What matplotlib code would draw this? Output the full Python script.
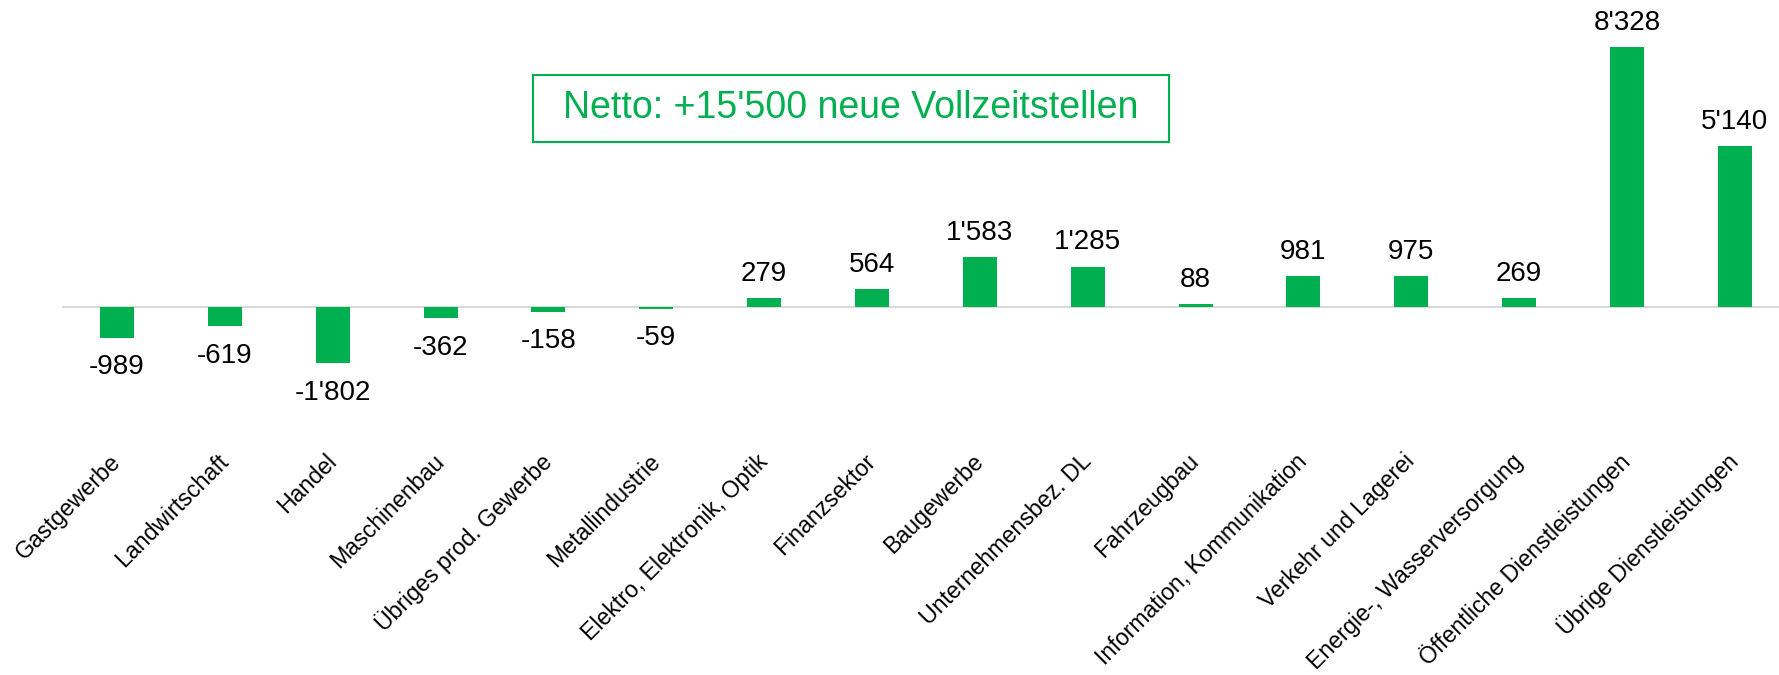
import matplotlib
matplotlib.use("Agg")
import matplotlib.pyplot as plt
from matplotlib.patches import Rectangle

plt.rcParams["font.family"] = ["Liberation Sans", "DejaVu Sans"]

# Netto-Veränderung Vollzeitstellen je Branche
branchen = [
    "Gastgewerbe", "Landwirtschaft", "Handel", "Maschinenbau",
    "Übriges prod. Gewerbe", "Metallindustrie", "Elektro, Elektronik, Optik",
    "Finanzsektor", "Baugewerbe", "Unternehmensbez. DL", "Fahrzeugbau",
    "Information, Kommunikation", "Verkehr und Lagerei",
    "Energie-, Wasserversorgung", "Öffentliche Dienstleistungen",
    "Übrige Dienstleistungen",
]
veraenderung = [-989, -619, -1802, -362, -158, -59, 279, 564, 1583, 1285,
                88, 981, 975, 269, 8328, 5140]
netto_text = "Netto: +15'500 neue Vollzeitstellen"

gruen = "#00B050"
W, H = 1779, 675


def fmt(v):
    s = f"{abs(v):,}".replace(",", "'")
    return "-" + s if v < 0 else s


fig = plt.figure(figsize=(W / 100, H / 100), dpi=100)
ax = fig.add_axes([62 / W, 1 - 458 / H, 1 - 62 / W, 458 / H])

x = range(len(branchen))
ax.bar(x, veraenderung, width=0.315, color=gruen, zorder=2)
ax.axhline(0, color="#d9d9d9", lw=1.5, zorder=1)

for i, v in enumerate(veraenderung):
    if v >= 0:
        ax.annotate(fmt(v), (i, v), xytext=(0, 8), textcoords="offset points",
                    ha="center", va="bottom", fontsize=20)
    else:
        ax.annotate(fmt(v), (i, v), xytext=(0, -12), textcoords="offset points",
                    ha="center", va="top", fontsize=20)

px_per_unit = 260 / 8328
ax.set_ylim(-(458 - 306.7) / px_per_unit, 306.7 / px_per_unit)
ax.set_xlim(-0.51, 15.41)

ax.set_xticks(list(x))
ax.set_xticklabels(branchen, rotation=45, ha="right", va="center",
                   rotation_mode="anchor", fontsize=16.7)
ax.tick_params(axis="x", length=0, pad=0)
ax.set_yticks([])
for s in ax.spines.values():
    s.set_visible(False)

# Kasten mit Netto-Wert
fig.patches.append(Rectangle((533 / W, 1 - 142 / H), (1169 - 533) / W, 67 / H,
                             transform=fig.transFigure, fill=False,
                             edgecolor=gruen, lw=1.5))
fig.text(851 / W, 1 - 108 / H, netto_text, ha="center", va="center",
         fontsize=27, color=gruen)

fig.savefig("out.png", dpi=100)
